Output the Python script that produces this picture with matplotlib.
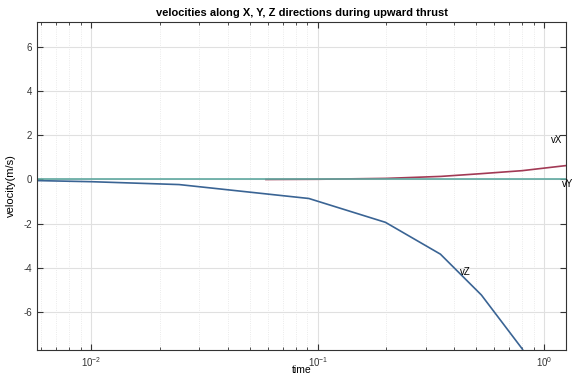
import numpy as np
import matplotlib
matplotlib.use("Agg")
import matplotlib.pyplot as plt

plt.rcParams['font.family'] = ['Liberation Sans', 'DejaVu Sans']
plt.rcParams['mathtext.fontset'] = 'custom'
plt.rcParams['mathtext.rm'] = 'Liberation Sans'
plt.rcParams['axes.unicode_minus'] = False

# time samples and velocities
t_z = [0.00576, 0.01, 0.0244, 0.0913, 0.199, 0.348, 0.528, 0.80, 1.2]
v_z = [-0.05, -0.10, -0.23, -0.86, -1.94, -3.38, -5.23, -7.67, -11.3]

t_x = [0.059, 0.1, 0.2, 0.35, 0.52, 0.8, 1.25]
v_x = [0.0, 0.01, 0.05, 0.14, 0.26, 0.40, 0.63]

t_y = [0.00576, 0.1, 1.25]
v_y = [0.0, 0.0, 0.0]

labels = ["vX", "vY", "vZ"]

fig = plt.figure(figsize=(5.73, 3.76), dpi=100)
ax = fig.add_axes([0.0646, 0.0691, 0.9234, 0.8724])

ax.plot(t_z, v_z, color='#3a6494', lw=1.2)
ax.plot(t_x, v_x, color='#a23a55', lw=1.2)
ax.plot(t_y, v_y, color='#5fa8a0', lw=1.2)

ax.set_xscale('log')
ax.set_xlim(0.00575, 1.25)
ax.set_ylim(-7.72, 7.13)
ax.set_yticks([-6, -4, -2, 0, 2, 4, 6])

ax.grid(True, which='major', color='#e0e0e0', lw=0.8)
ax.grid(True, which='minor', color='#e4e4e4', lw=0.6, ls=':')
ax.tick_params(which='both', direction='in', top=True, right=True,
               labelsize=7, color='#333333', labelcolor='#333333')
ax.tick_params(which='major', length=4)
ax.tick_params(which='minor', length=2.5)
for s in ax.spines.values():
    s.set_color('#333333')
    s.set_linewidth(0.8)

ax.set_title("velocities along X, Y, Z directions during upward thrust",
             fontsize=8, fontweight='bold', pad=4)
ax.set_xlabel("time", fontsize=7.5, va='top')
ax.xaxis.set_label_coords(0.5, -0.047)
ax.set_ylabel("velocity(m/s)", fontsize=8)
ax.yaxis.set_label_coords(-0.04, 0.5)

ax.text(1.13, 1.8, labels[0], fontsize=7, ha='center', va='center')
ax.text(1.27, -0.2, labels[1], fontsize=7, ha='center', va='center', clip_on=False)
ax.text(0.45, -4.2, labels[2], fontsize=7, ha='center', va='center')

fig.savefig("out.png", dpi=100)
